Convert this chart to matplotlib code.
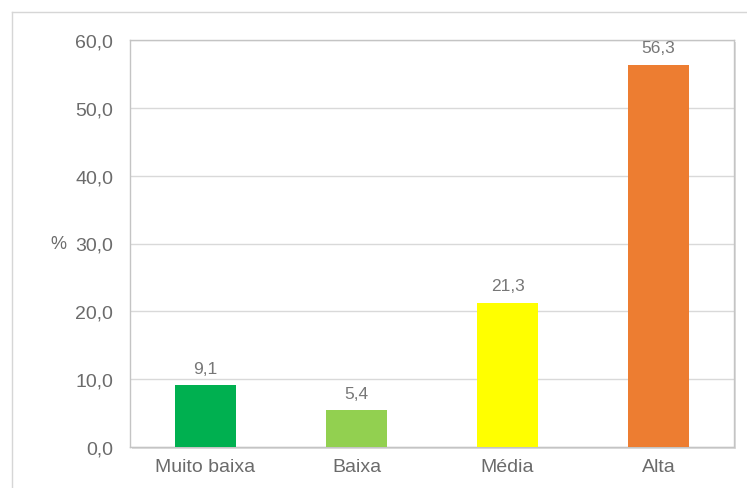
import matplotlib.pyplot as plt
from matplotlib.patches import Rectangle
from matplotlib.lines import Line2D

# dados
categorias = ['Muito baixa', 'Baixa', 'Média', 'Alta']
valores = [9.1, 5.4, 21.3, 56.3]
cores = ['#00B050', '#92D050', '#FFFF00', '#ED7D31']
yticks = [0, 10, 20, 30, 40, 50, 60]

plt.rcParams['font.family'] = ['Liberation Sans', 'DejaVu Sans']
cinza = '#6b6b6b'

fig = plt.figure(figsize=(7.47, 4.89), dpi=100)
fig.patch.set_facecolor('white')

# moldura externa (so topo e esquerda aparecem no recorte)
W, H = 747, 489
fig.lines.append(Line2D([12 / W, 1], [1 - 13 / H, 1 - 13 / H], transform=fig.transFigure,
                        color='#d6d6d6', linewidth=1))
fig.lines.append(Line2D([12 / W, 12 / W], [0, 1 - 13 / H], transform=fig.transFigure,
                        color='#d6d6d6', linewidth=1))

ax = fig.add_axes([130 / W, 41 / H, 604 / W, 407 / H])
ax.set_zorder(2)

# sombra da area do grafico
sombra = Rectangle((132 / W, 39 / H), 604 / W, 407 / H,
                   transform=fig.transFigure, facecolor='#dedede',
                   edgecolor='none', zorder=1)
fig.patches.append(sombra)

x = range(len(categorias))
ax.bar(x, valores, width=0.4, color=cores, zorder=3)

for i, v in zip(x, valores):
    ax.annotate(f'{v:.1f}'.replace('.', ','), (i, v), xytext=(0, 7),
                textcoords='offset points', ha='center', va='bottom',
                fontsize=12.5, color='#777777')

ax.set_xlim(-0.5, len(categorias) - 0.5)
ax.set_ylim(0, 60)
ax.set_yticks(yticks)
ax.set_yticklabels([f'{t:.1f}'.replace('.', ',') for t in yticks])
ax.set_xticks(list(x))
ax.set_xticklabels(categorias)
ax.tick_params(axis='y', length=0, pad=12, labelsize=14, labelcolor=cinza)
ax.tick_params(axis='x', length=0, pad=8, labelsize=14, labelcolor=cinza)

ax.grid(axis='y', color='#d9d9d9', linewidth=1, zorder=0)
for s in ax.spines.values():
    s.set_color('#c4c4c4')
    s.set_linewidth(1)

ax.set_ylabel('%', rotation=0, fontsize=13, color=cinza, labelpad=12, va='center')

fig.savefig('out.png', dpi=100)
